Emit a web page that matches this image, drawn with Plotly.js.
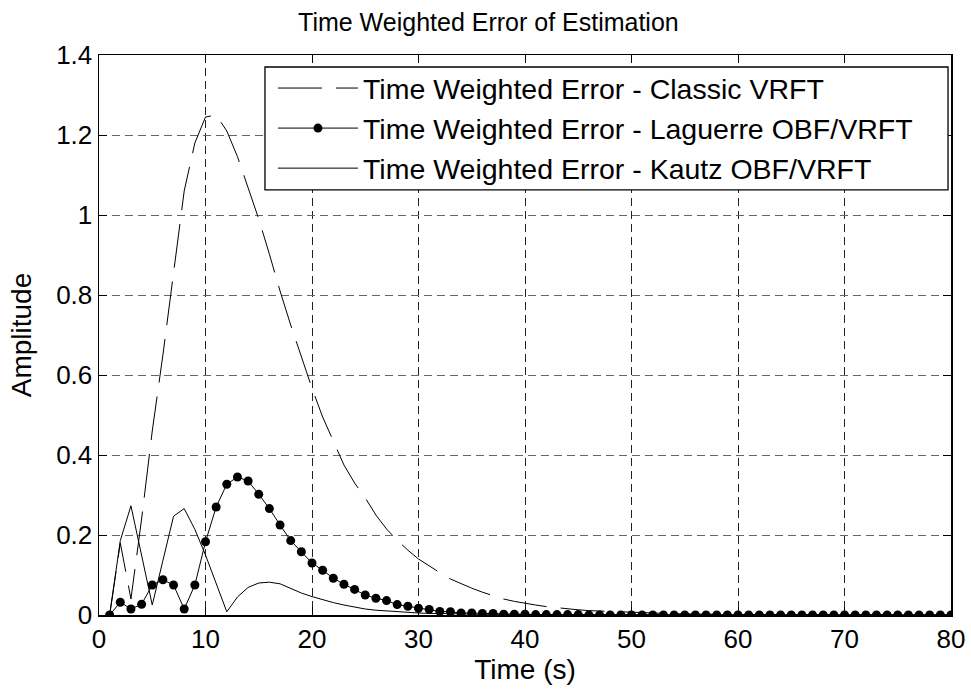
<!DOCTYPE html>
<html>
<head>
<meta charset="utf-8">
<script src="https://cdn.plot.ly/plotly-3.0.1.min.js"></script>
<style>html,body{margin:0;padding:0;background:#fff;}#chart{width:971px;height:693px;}</style>
</head>
<body>
<div id="chart"></div>
<script>
// Time samples (s)
const time = Array.from({length: 80}, (_, i) => i + 1);

// Time Weighted Error - Classic VRFT
const classicVRFT = [
  0, 0.18, 0.04, 0.24, 0.46, 0.65, 0.855, 1.06, 1.18, 1.245,
  1.25, 1.21, 1.146, 1.07, 0.99, 0.902, 0.81, 0.725, 0.645, 0.567,
  0.495, 0.435, 0.375, 0.33, 0.293, 0.25, 0.215, 0.187, 0.162, 0.14,
  0.122, 0.106, 0.09, 0.078, 0.067, 0.057, 0.048, 0.04, 0.034, 0.029,
  0.025, 0.021, 0.018, 0.015, 0.013, 0.011, 0.01, 0.008, 0.007, 0.006,
  0.005, 0.004, 0.004, 0.003, 0.003, 0.002, 0.002, 0.002, 0.001, 0.001,
  0.001, 0.001, 0.001, 0.001, 0, 0, 0, 0, 0, 0,
  0, 0, 0, 0, 0, 0, 0, 0, 0, 0
];

// Time Weighted Error - Laguerre OBF/VRFT
const laguerreVRFT = [
  0, 0.032, 0.015, 0.027, 0.075, 0.088, 0.075, 0.015, 0.075, 0.183,
  0.27, 0.327, 0.345, 0.335, 0.302, 0.266, 0.225, 0.186, 0.158, 0.13,
  0.112, 0.092, 0.077, 0.064, 0.05, 0.042, 0.036, 0.026, 0.022, 0.017,
  0.014, 0.009, 0.008, 0.005, 0.005, 0.004, 0.004, 0.002, 0.002, 0.002,
  0.001, 0.001, 0.001, 0.001, 0.001, 0, 0, 0, 0, 0,
  0, 0, 0, 0, 0, 0, 0, 0, 0, 0,
  0, 0, 0, 0, 0, 0, 0, 0, 0, 0,
  0, 0, 0, 0, 0, 0, 0, 0, 0, 0
];

// Time Weighted Error - Kautz OBF/VRFT
const kautzVRFT = [
  0, 0.186, 0.273, 0.148, 0.025, 0.136, 0.247, 0.266, 0.214, 0.15,
  0.08, 0.008, 0.045, 0.069, 0.08, 0.082, 0.078, 0.066, 0.055, 0.046,
  0.038, 0.031, 0.025, 0.02, 0.015, 0.012, 0.01, 0.008, 0.006, 0.005,
  0.004, 0.004, 0.003, 0.003, 0.002, 0.002, 0.002, 0.001, 0.001, 0.001,
  0.001, 0.001, 0, 0, 0, 0, 0, 0, 0, 0,
  0, 0, 0, 0, 0, 0, 0, 0, 0, 0,
  0, 0, 0, 0, 0, 0, 0, 0, 0, 0,
  0, 0, 0, 0, 0, 0, 0, 0, 0, 0
];

const seriesNames = [
  'Time Weighted Error - Classic VRFT',
  'Time Weighted Error - Laguerre OBF/VRFT',
  'Time Weighted Error - Kautz OBF/VRFT'
];

const xTicks = [0, 10, 20, 30, 40, 50, 60, 70, 80];
const yTicks = [0, 0.2, 0.4, 0.6, 0.8, 1, 1.2, 1.4];
const yTickText = ['0', '0.2', '0.4', '0.6', '0.8', '1', '1.2', '1.4'];

const FONT = 'Liberation Sans, Arial, Helvetica, sans-serif';

const traces = [
  {
    x: time, y: classicVRFT, name: seriesNames[0], type: 'scatter', mode: 'lines',
    line: {color: '#000', width: 1, dash: '44px,14px'}
  },
  {
    x: time, y: laguerreVRFT, name: seriesNames[1], type: 'scatter', mode: 'lines+markers',
    line: {color: '#000', width: 1}, marker: {color: '#000', size: 9, symbol: 'circle'}
  },
  {
    x: time, y: kautzVRFT, name: seriesNames[2], type: 'scatter', mode: 'lines',
    line: {color: '#000', width: 1}
  }
];

const axisCommon = {
  showline: true, linecolor: '#000', linewidth: 1.5, mirror: 'ticks',
  ticks: 'inside', ticklen: 8, tickwidth: 1, tickcolor: '#000',
  showgrid: true, gridwidth: 1, griddash: '8px,5px',
  zeroline: false,
  tickfont: {family: FONT, size: 26, color: '#000'}
};

const layout = {
  width: 971, height: 693,
  paper_bgcolor: '#fff', plot_bgcolor: '#fff',
  margin: {l: 99, r: 20, t: 55, b: 78},
  showlegend: true,
  title: {
    text: 'Time Weighted Error of Estimation',
    font: {family: FONT, size: 25, color: '#000'},
    xref: 'container', x: 0.503, xanchor: 'center',
    yref: 'container', y: 0.968, yanchor: 'middle'
  },
  xaxis: Object.assign({}, axisCommon, {
    range: [0, 80], tickvals: xTicks, ticktext: xTicks.map(String),
    gridcolor: '#222',
    title: {text: 'Time (s)', font: {family: FONT, size: 28, color: '#000'}, standoff: 2}
  }),
  yaxis: Object.assign({}, axisCommon, {
    range: [0, 1.4], tickvals: yTicks, ticktext: yTickText,
    gridcolor: '#666',
    title: {text: 'Amplitude', font: {family: FONT, size: 28, color: '#000'}, standoff: 16}
  }),
  // legend frame (white box with black border) behind the legend entries
  shapes: [{
    type: 'rect', xref: 'paper', yref: 'paper', layer: 'above',
    x0: 0.1948, x1: 0.9965, y0: 0.759, y1: 0.9786,
    fillcolor: '#fff', line: {color: '#000', width: 1.3}
  }],
  legend: {
    x: 0.2042, xanchor: 'left', y: 0.9857, yanchor: 'top',
    bgcolor: 'rgba(0,0,0,0)', borderwidth: 0,
    font: {family: FONT, size: 28.5, color: '#000'},
    itemwidth: 80, tracegroupgap: 0
  }
};

Plotly.newPlot('chart', traces, layout, {staticPlot: true, displayModeBar: false});
</script>
</body>
</html>
